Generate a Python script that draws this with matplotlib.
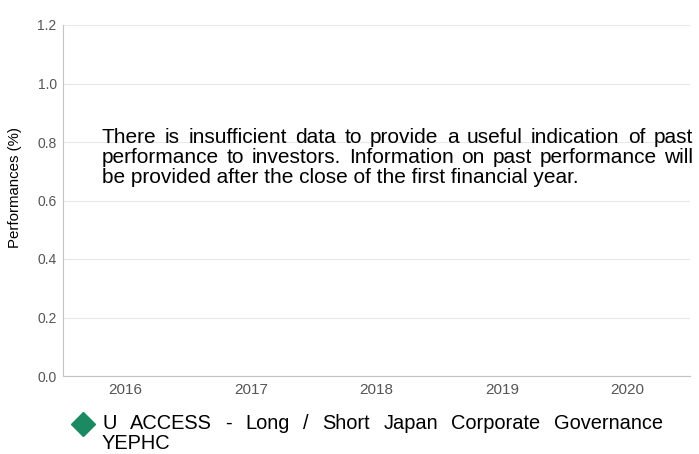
import matplotlib
matplotlib.use('Agg')
import matplotlib.pyplot as plt

plt.rcParams['font.family'] = ['Liberation Sans', 'DejaVu Sans']

W, H = 699, 454

years = ['2016', '2017', '2018', '2019', '2020']
y_ticks = [0.0, 0.2, 0.4, 0.6, 0.8, 1.0, 1.2]
fund_name = ['U ACCESS - Long / Short Japan Corporate Governance', 'YEPHC']
fund_color = '#1b8a63'
message = ['There is insufficient data to provide a useful indication of past',
           'performance to investors. Information on past performance will',
           'be provided after the close of the first financial year.']


def fx(px):
    return px / W


def fy(py):
    return 1 - py / H


def justified_line(fig, line, x0, x1, y, **kw):
    # spread the words so the line fills x0..x1 (pixels)
    words = line.split()
    texts = [fig.text(fx(x0), fy(y), w, va='baseline', ha='left', **kw) for w in words]
    r = fig.canvas.get_renderer()
    widths = [t.get_window_extent(r).width for t in texts]
    gap = (x1 - x0 - sum(widths)) / (len(words) - 1)
    x = x0
    for t, w in zip(texts, widths):
        t.set_x(fx(x))
        x += w + gap


fig = plt.figure(figsize=(W / 100, H / 100), dpi=100)
ax = fig.add_axes([fx(63), fy(376), fx(690) - fx(63), fy(25) - fy(376)])

# no data -> empty chart, only the axes
ax.set_xlim(-0.5, len(years) - 0.5)
ax.set_ylim(0, 1.2)
ax.set_xticks(range(len(years)))
ax.set_xticklabels(years)
ax.set_yticks(y_ticks)
ax.set_yticklabels([f'{v:.1f}' for v in y_ticks])
ax.grid(axis='y', color='#e8e8e8', linewidth=0.8)
ax.set_axisbelow(True)

for s in ['top', 'right']:
    ax.spines[s].set_visible(False)
for s in ['left', 'bottom']:
    ax.spines[s].set_color('#c4c4c4')
    ax.spines[s].set_linewidth(0.8)

ax.tick_params(axis='both', length=0, colors='#555555')
ax.tick_params(axis='x', labelsize=11, pad=5)
ax.tick_params(axis='y', labelsize=10, pad=4.5)
ax.set_ylabel('Performances (%)', fontsize=10.8, color='black')
ax.yaxis.set_label_coords((22 - 63) / 627, (376 - 187) / 351)

# message
for i, line in enumerate(message):
    y = 143 + 20 * i
    if i < len(message) - 1:
        justified_line(fig, line, 102, 693, y, fontsize=15, color='black')
    else:
        fig.text(fx(102), fy(y), line, va='baseline', ha='left', fontsize=15, color='black')

# legend
fig.lines.append(plt.Line2D([fx(83)], [fy(424)], transform=fig.transFigure,
                            marker='D', markersize=12, color=fund_color, linestyle='none'))
justified_line(fig, fund_name[0], 102, 663, 429, fontsize=14.4, color='black')
fig.text(fx(102), fy(449), fund_name[1], va='baseline', ha='left', fontsize=14.4, color='black')

plt.savefig('out.png', dpi=100)
